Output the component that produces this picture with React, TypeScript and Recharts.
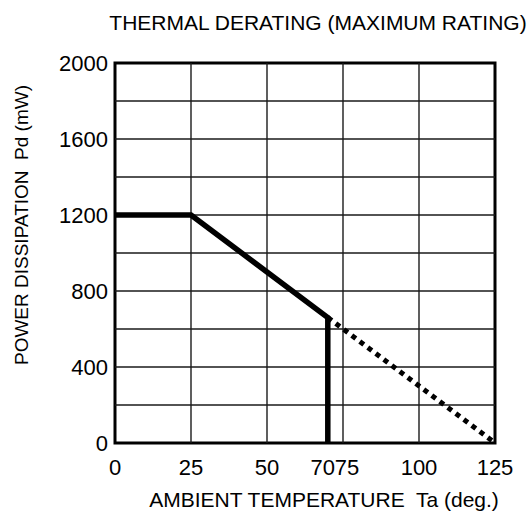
import { LineChart, Line, XAxis, YAxis, ReferenceLine, ReferenceArea } from "recharts";

// derating curve (Ta in deg, Pd in mW)
const ratedTemp = [0, 25, 70, 70];
const ratedPower = [1200, 1200, 660, 0];
const extTemp = [70, 125];
const extPower = [660, 0];

const xTicks = [0, 25, 50, 70, 75, 100, 125];
const yTicks = [0, 400, 800, 1200, 1600, 2000];
const gridX = [25, 50, 75, 100];
const gridY = [200, 400, 600, 800, 1000, 1200, 1400, 1600, 1800];

const rated = ratedTemp.map((t, i) => ({ t, p: ratedPower[i] }));
const extended = extTemp.map((t, i) => ({ t, p: extPower[i] }));

const FONT = '"Liberation Sans", Arial, Helvetica, sans-serif';

// 70 and 75 sit close together, nudge them apart like the original
const tickNudge: Record<number, number> = { 70: -5, 75: 4 };

function XTick({ x, y, payload }: any) {
  const v = payload.value as number;
  return (
    <text
      x={x + (tickNudge[v] ?? 0)}
      y={y + 32}
      textAnchor="middle"
      fontSize={22}
      fontFamily={FONT}
      fill="#000"
    >
      {v}
    </text>
  );
}

export default function App() {
  return (
    <div style={{ position: "absolute", left: 0, top: 0, width: 531, height: 515, background: "#fff" }}>
      <LineChart
        width={531}
        height={515}
        margin={{ top: 63, right: 36, bottom: 0, left: 0 }}
        style={{ fontFamily: FONT }}
      >
        <XAxis
          type="number"
          dataKey="t"
          domain={[0, 125]}
          ticks={xTicks}
          interval={0}
          height={72}
          axisLine={false}
          tickLine={false}
          tickSize={0}
          tickMargin={0}
          tick={<XTick />}
        />
        <YAxis
          type="number"
          dataKey="p"
          domain={[0, 2000]}
          ticks={yTicks}
          interval={0}
          width={115}
          axisLine={false}
          tickLine={false}
          tickSize={0}
          tickMargin={7}
          tick={{ fill: "#000", fontSize: 22, fontFamily: FONT }}
        />
        {gridY.map((v) => (
          <ReferenceLine key={"h" + v} y={v} stroke="#1a1a1a" strokeWidth={1.4} />
        ))}
        {gridX.map((v) => (
          <ReferenceLine key={"v" + v} x={v} stroke="#1a1a1a" strokeWidth={1.4} />
        ))}
        <ReferenceArea
          x1={0}
          x2={125}
          y1={0}
          y2={2000}
          fill="none"
          fillOpacity={0}
          stroke="#000"
          strokeWidth={3}
        />
        <Line
          data={rated}
          dataKey="p"
          type="linear"
          stroke="#000"
          strokeWidth={5.5}
          strokeLinejoin="miter"
          dot={false}
          activeDot={false}
          isAnimationActive={false}
        />
        <Line
          data={extended}
          dataKey="p"
          type="linear"
          stroke="#000"
          strokeWidth={5}
          strokeDasharray="5 5"
          dot={false}
          activeDot={false}
          isAnimationActive={false}
        />
      </LineChart>
      <svg
        width={531}
        height={515}
        style={{ position: "absolute", left: 0, top: 0, pointerEvents: "none" }}
      >
        <text x={318} y={30} textAnchor="middle" fontSize={21} fontFamily={FONT} fill="#000">
          THERMAL DERATING (MAXIMUM RATING)
        </text>
        <text
          x={324}
          y={507}
          textAnchor="middle"
          fontSize={21}
          fontFamily={FONT}
          fill="#000"
          style={{ whiteSpace: "pre" }}
        >
          {"AMBIENT TEMPERATURE  Ta (deg.)"}
        </text>
        <text
          x={28}
          y={225}
          textAnchor="middle"
          fontSize={19}
          fontFamily={FONT}
          fill="#000"
          transform="rotate(-90 28 225)"
          style={{ whiteSpace: "pre" }}
        >
          {"POWER DISSIPATION  Pd (mW)"}
        </text>
      </svg>
    </div>
  );
}
